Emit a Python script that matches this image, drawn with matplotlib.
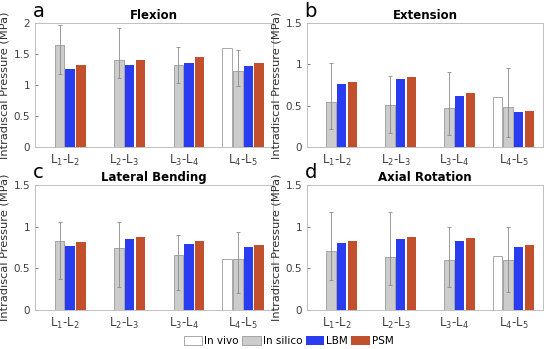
import matplotlib
matplotlib.use("Agg")
import matplotlib.pyplot as plt
import numpy as np
from matplotlib.patches import Patch

levels = ["L$_1$-L$_2$", "L$_2$-L$_3$", "L$_3$-L$_4$", "L$_4$-L$_5$"]
titles = ["Flexion", "Extension", "Lateral Bending", "Axial Rotation"]
letters = ["a", "b", "c", "d"]
ymax = [2.0, 1.5, 1.5, 1.5]

# in vivo only measured at L4-L5 (nan elsewhere)
in_vivo = [
    [np.nan, np.nan, np.nan, 1.60],
    [np.nan, np.nan, np.nan, 0.61],
    [np.nan, np.nan, np.nan, 0.61],
    [np.nan, np.nan, np.nan, 0.65],
]
in_silico = [
    [1.65, 1.40, 1.33, 1.23],
    [0.55, 0.51, 0.47, 0.48],
    [0.83, 0.74, 0.66, 0.61],
    [0.71, 0.64, 0.60, 0.60],
]
silico_lo = [
    [1.18, 1.12, 1.04, 0.99],
    [0.22, 0.17, 0.15, 0.12],
    [0.37, 0.28, 0.24, 0.20],
    [0.36, 0.30, 0.27, 0.21],
]
silico_hi = [
    [1.97, 1.92, 1.62, 1.57],
    [1.02, 0.86, 0.91, 0.96],
    [1.06, 1.05, 0.90, 0.94],
    [1.18, 1.17, 1.00, 0.99],
]
lbm = [
    [1.25, 1.32, 1.36, 1.30],
    [0.76, 0.82, 0.62, 0.42],
    [0.77, 0.85, 0.79, 0.75],
    [0.80, 0.85, 0.83, 0.75],
]
psm = [
    [1.32, 1.41, 1.45, 1.35],
    [0.79, 0.85, 0.65, 0.43],
    [0.81, 0.88, 0.83, 0.78],
    [0.83, 0.88, 0.86, 0.78],
]

c_vivo = "white"
c_silico = "#cccccc"
c_lbm = "#2a3cf0"
c_psm = "#c2502c"
edge = "#9a9a9a"

fig = plt.figure(figsize=(5.5, 3.49), dpi=100)
boxes = [
    [0.064, 0.579, 0.432, 0.355],
    [0.558, 0.579, 0.429, 0.355],
    [0.064, 0.112, 0.432, 0.358],
    [0.558, 0.112, 0.429, 0.358],
]

x = np.arange(1, 5)
w = 0.16
offs = [-0.27, -0.09, 0.09, 0.27]

for k in range(4):
    ax = fig.add_axes(boxes[k])
    ax.bar(x + offs[0], in_vivo[k], w, color=c_vivo, edgecolor=edge, linewidth=0.6)
    s = np.array(in_silico[k])
    yerr = [s - np.array(silico_lo[k]), np.array(silico_hi[k]) - s]
    ax.bar(x + offs[1], s, w, color=c_silico, edgecolor=edge, linewidth=0.6,
           yerr=yerr, error_kw=dict(ecolor="#8a8a8a", elinewidth=0.6, capsize=1.2, capthick=0.6))
    ax.bar(x + offs[2], lbm[k], w, color=c_lbm, edgecolor="none")
    ax.bar(x + offs[3], psm[k], w, color=c_psm, edgecolor="none")

    ax.set_xlim(0.5, 4.5)
    ax.set_ylim(0, ymax[k])
    ticks = np.arange(0, ymax[k] + 0.01, 0.5)
    ax.set_yticks(ticks)
    ax.set_yticklabels([f"{v:g}" for v in ticks])
    ax.set_xticks(x)
    ax.set_xticklabels(levels)
    ax.tick_params(axis="x", length=0, labelsize=8.5, colors="#404040", pad=4)
    ax.tick_params(axis="y", direction="in", length=2, labelsize=7.5, colors="#404040", width=0.5)
    for sp in ax.spines.values():
        sp.set_color("#c0c0c0")
        sp.set_linewidth(0.7)
    ax.set_ylabel("Intradiscal Pressure (MPa)", fontsize=8.2, color="#303030", labelpad=3)
    ax.set_title(titles[k], fontsize=8.5, fontweight="bold", pad=3)
    ax.text(-0.01, 1.02, letters[k], transform=ax.transAxes, fontsize=14,
            ha="left", va="bottom")

handles = [
    Patch(facecolor=c_vivo, edgecolor=edge, linewidth=0.6, label="In vivo"),
    Patch(facecolor=c_silico, edgecolor=edge, linewidth=0.6, label="In silico"),
    Patch(facecolor=c_lbm, edgecolor="none", label="LBM"),
    Patch(facecolor=c_psm, edgecolor="none", label="PSM"),
]
fig.legend(handles=handles, loc="center", bbox_to_anchor=(0.525, 0.023), ncol=4,
           frameon=False, fontsize=7.5, handlelength=1.8, handleheight=0.9,
           handletextpad=0.2, columnspacing=0.3, borderpad=0.1)

fig.savefig("out.png", dpi=100)
